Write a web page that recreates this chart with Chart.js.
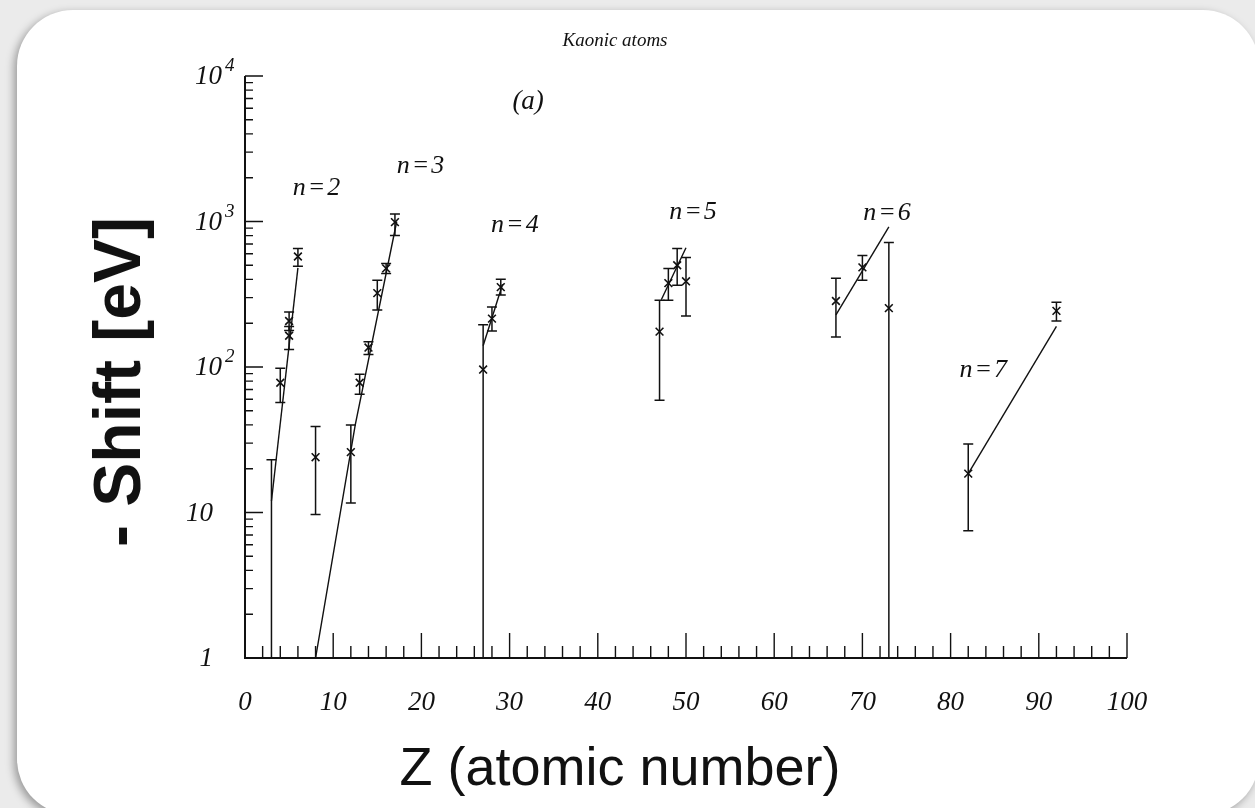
<!DOCTYPE html>
<html>
<head>
<meta charset="utf-8">
<script src="https://cdn.jsdelivr.net/npm/chart.js@4.4.0/dist/chart.umd.min.js"></script>
<style>
  html, body { margin: 0; padding: 0; width: 1255px; height: 808px; overflow: hidden; background: #ebebeb; }
  .card { position: absolute; left: 17px; top: 10px; width: 1242px; height: 805px; background: #fff;
          border-radius: 56px; box-shadow: -3px 3px 9px rgba(0,0,0,0.35); }
  #chart { position: absolute; left: 0; top: 0; }
  .title { position: absolute; left: 615px; top: 40px; transform: translate(-50%, -50%);
           font: italic 19px "Liberation Serif", "Times New Roman", serif; color: #111; white-space: nowrap; }
  .ytitle { position: absolute; left: 117px; top: 382px; transform: translate(-50%, -50%) rotate(-90deg);
            font: bold 66px "Liberation Sans", Arial, sans-serif; color: #111; white-space: nowrap; }
  .xtitle { position: absolute; left: 620px; top: 766px; transform: translate(-50%, -50%);
            font: 54px "Liberation Sans", Arial, sans-serif; color: #111; white-space: nowrap; }
</style>
</head>
<body>
<div class="card"></div>
<canvas id="chart" width="1255" height="808"></canvas>
<div class="title">Kaonic atoms</div>
<div class="ytitle">- Shift [eV]</div>
<div class="xtitle">Z (atomic number)</div>
<script>
const atomicNumber = [3, 4, 5, 5, 6, 8, 12, 13, 14, 15, 16, 17, 27, 28, 29, 47, 48, 49, 50, 67, 70, 73, 82, 92];
const shift   = [0.5, 78, 207, 164, 575, 24, 26, 78, 136, 322, 476, 990, 96, 215, 354, 175, 377, 500, 388, 284, 484, 254, 18.5, 243];
const errLow  = [0.1, 57, 178, 132, 492, 9.7, 11.6, 65, 122, 246, 440, 800, 0.1, 177, 312, 59, 288, 365, 224, 161, 395, 0.1, 7.5, 207];
const errHigh = [23, 98, 239, 190, 652, 39, 40, 89, 149, 395, 515, 1126, 195, 258, 401, 288, 476, 652, 566, 407, 584, 716, 29.6, 279];

// fitted lines for each shell (Z, shift)
const fitN2 = [[3, 12], [6, 480]];
const fitN3 = [[8, 1], [12.5, 40], [17.2, 1000]];
const fitN4 = [[27, 140], [29.2, 370]];
const fitN5 = [[47.2, 290], [50, 660]];
const fitN6 = [[67, 228], [73, 920]];
const fitN7 = [[82, 18.5], [92, 190]];

const shellLabels = ['n=2', 'n=3', 'n=4', 'n=5', 'n=6', 'n=7'];
const shellLabelZ = [8.1, 19.9, 30.6, 50.8, 72.8, 83.7];
const shellLabelShift = [1700, 2400, 946, 1162, 1143, 95];

const xTickLabels = ['0', '10', '20', '30', '40', '50', '60', '70', '80', '90', '100'];
const yDecades = [0, 1, 2, 3, 4];

const ink = '#111';
const serif = '"Liberation Serif", "Times New Roman", serif';

const fitDataset = pts => ({
  type: 'line',
  data: pts.map(p => ({x: p[0], y: p[1]})),
  showLine: true,
  borderColor: ink,
  borderWidth: 1.4,
  pointRadius: 0,
  tension: 0
});

const errorBars = {
  id: 'errorBars',
  afterDatasetsDraw(chart) {
    const {ctx, chartArea: a, scales: {x, y}} = chart;
    ctx.save();
    ctx.beginPath();
    ctx.rect(a.left - 8, a.top - 2, a.right - a.left + 16, a.bottom - a.top + 2);
    ctx.clip();
    ctx.strokeStyle = ink;
    ctx.lineWidth = 1.5;
    atomicNumber.forEach((z, i) => {
      const px = x.getPixelForValue(z);
      const top = y.getPixelForValue(errHigh[i]);
      const bot = y.getPixelForValue(errLow[i]);
      ctx.beginPath();
      ctx.moveTo(px, top);
      ctx.lineTo(px, Math.min(bot, a.bottom));
      ctx.moveTo(px - 5, top);
      ctx.lineTo(px + 5, top);
      if (bot < a.bottom) {
        ctx.moveTo(px - 5, bot);
        ctx.lineTo(px + 5, bot);
      }
      ctx.stroke();
    });
    ctx.restore();
  }
};

// axes with inward ticks, like the scanned figure
const frame = {
  id: 'frame',
  afterDraw(chart) {
    const {ctx, chartArea: a, scales: {x, y}} = chart;
    ctx.save();
    ctx.strokeStyle = ink;
    ctx.fillStyle = ink;
    ctx.lineWidth = 2;
    ctx.beginPath();
    ctx.moveTo(a.left, y.getPixelForValue(10000));
    ctx.lineTo(a.left, a.bottom);
    ctx.lineTo(a.right, a.bottom);
    ctx.stroke();

    ctx.lineWidth = 1.4;
    ctx.beginPath();
    for (let z = 0; z <= 100; z += 2) {
      const px = x.getPixelForValue(z);
      const len = z % 10 === 0 ? 25 : 12;
      ctx.moveTo(px, a.bottom);
      ctx.lineTo(px, a.bottom - len);
    }
    yDecades.forEach(d => {
      const py = y.getPixelForValue(Math.pow(10, d));
      ctx.moveTo(a.left, py);
      ctx.lineTo(a.left + 18, py);
      if (d < 4) {
        for (let m = 2; m <= 9; m++) {
          const pm = y.getPixelForValue(m * Math.pow(10, d));
          ctx.moveTo(a.left, pm);
          ctx.lineTo(a.left + 8, pm);
        }
      }
    });
    ctx.stroke();

    ctx.font = 'italic 27px ' + serif;
    ctx.textAlign = 'center';
    ctx.textBaseline = 'middle';
    xTickLabels.forEach(t => {
      ctx.fillText(t, x.getPixelForValue(Number(t)), a.bottom + 45);
    });

    yDecades.forEach(d => {
      const py = y.getPixelForValue(Math.pow(10, d));
      ctx.font = 'italic 27px ' + serif;
      ctx.textBaseline = 'middle';
      if (d < 2) {
        ctx.textAlign = 'right';
        ctx.fillText(d === 0 ? '1' : '10', a.left - 32, py + 1);
      } else {
        ctx.textAlign = 'right';
        ctx.fillText('10', a.left - 23, py + 1);
        ctx.font = 'italic 19px ' + serif;
        ctx.textAlign = 'left';
        ctx.fillText(String(d), a.left - 20, py - 10);
      }
    });

    ctx.font = 'italic 26px ' + serif;
    ctx.textAlign = 'center';
    ctx.textBaseline = 'middle';
    ctx.letterSpacing = '2px';
    shellLabels.forEach((t, i) => {
      ctx.fillText(t, x.getPixelForValue(shellLabelZ[i]) + 1, y.getPixelForValue(shellLabelShift[i]));
    });
    ctx.letterSpacing = '0px';
    ctx.font = 'italic 27px ' + serif;
    ctx.fillText('(a)', x.getPixelForValue(32.1), y.getPixelForValue(6650));
    ctx.restore();
  }
};

new Chart(document.getElementById('chart'), {
  type: 'scatter',
  data: {
    datasets: [
      {
        data: atomicNumber.map((z, i) => ({x: z, y: shift[i]})),
        pointStyle: 'crossRot',
        pointRadius: 5.5,
        borderColor: ink,
        backgroundColor: ink,
        borderWidth: 1.6
      },
      fitDataset(fitN2),
      fitDataset(fitN3),
      fitDataset(fitN4),
      fitDataset(fitN5),
      fitDataset(fitN6),
      fitDataset(fitN7)
    ]
  },
  options: {
    responsive: false,
    animation: false,
    devicePixelRatio: 1,
    layout: {padding: {left: 245, right: 128, top: 76, bottom: 150}},
    scales: {
      x: {type: 'linear', min: 0, max: 100, display: false},
      y: {type: 'logarithmic', min: 1, max: 10000, display: false}
    },
    plugins: {
      legend: {display: false},
      tooltip: {enabled: false}
    }
  },
  plugins: [errorBars, frame]
});
</script>
</body>
</html>
